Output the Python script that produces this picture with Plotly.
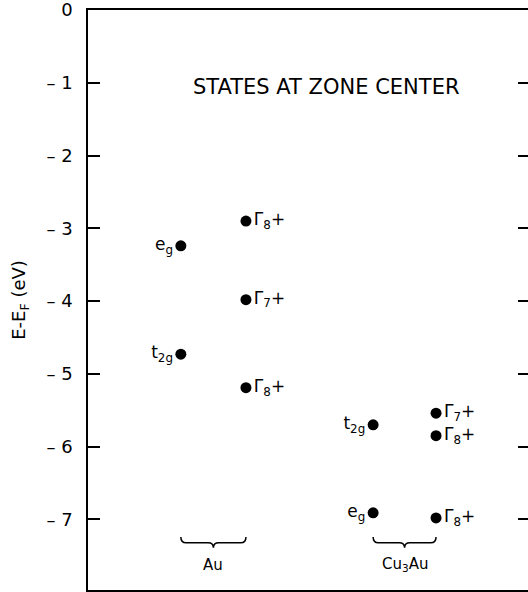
import plotly.graph_objects as go

# ---- data ----
# column positions (arbitrary horizontal units, range 0..10)
col_x = [2.11, 3.59, 6.48, 7.91]

au_cf_labels = ["e<sub>g</sub>", "t<sub>2g</sub>"]
au_cf_energy = [-3.24, -4.73]

au_so_labels = ["Γ<sub>8</sub>+", "Γ<sub>7</sub>+", "Γ<sub>8</sub>+"]
au_so_energy = [-2.90, -3.98, -5.19]

cu3au_cf_labels = ["t<sub>2g</sub>", "e<sub>g</sub>"]
cu3au_cf_energy = [-5.70, -6.91]

cu3au_so_labels = ["Γ<sub>7</sub>+", "Γ<sub>8</sub>+", "Γ<sub>8</sub>+"]
cu3au_so_energy = [-5.54, -5.85, -6.98]

tick_vals = [0, -1, -2, -3, -4, -5, -6, -7]
tick_text = ["0", "– 1", "– 2", "– 3", "– 4", "– 5", "– 6", "– 7"]

group_labels = ["Au", "Cu<sub>3</sub>Au"]

FONT = "DejaVu Sans"

fig = go.Figure()

def add_col(x, ys, labels, pos):
    fig.add_trace(go.Scatter(
        x=[x] * len(ys), y=ys, mode="markers+text",
        text=labels, textposition=pos,
        marker=dict(color="black", size=11),
        textfont=dict(family=FONT, size=17, color="black"),
        showlegend=False, hoverinfo="skip",
    ))

add_col(col_x[0], au_cf_energy, au_cf_labels, "middle left")
add_col(col_x[1], au_so_energy, au_so_labels, "middle right")
add_col(col_x[2], cu3au_cf_energy, cu3au_cf_labels, "middle left")
add_col(col_x[3], cu3au_so_energy, cu3au_so_labels, "middle right")

# dummy trace for the right-hand tick axis
fig.add_trace(go.Scatter(x=[None], y=[None], yaxis="y2", showlegend=False))

# braces under each material
def brace(x0, x1, ytop=-7.24, ymid=-7.32, ytip=-7.39, d=0.12):
    xm = (x0 + x1) / 2
    return (f"M {x0},{ytop} Q {x0},{ymid} {x0+d},{ymid} L {xm-d},{ymid} "
            f"Q {xm},{ymid} {xm},{ytip} Q {xm},{ymid} {xm+d},{ymid} "
            f"L {x1-d},{ymid} Q {x1},{ymid} {x1},{ytop}")

shapes = []
annotations = []
for (a, b), lab in zip([(col_x[0], col_x[1]), (col_x[2], col_x[3])], group_labels):
    shapes.append(dict(type="path", xref="x", yref="y", path=brace(a, b),
                       line=dict(color="black", width=1.5)))
    annotations.append(dict(x=(a + b) / 2, y=-7.62, xref="x", yref="y",
                            text=lab, showarrow=False,
                            font=dict(family=FONT, size=15, color="black")))

annotations.append(dict(x=5.43, y=-1.06, xref="x", yref="y",
                        text="STATES AT ZONE CENTER", showarrow=False,
                        xanchor="center",
                        font=dict(family=FONT, size=21, color="black")))

annotations.append(dict(x=-0.155, y=0.5, xref="paper", yref="paper",
                        text="E-E<sub>F</sub> (eV)", textangle=-90,
                        xanchor="center", yanchor="middle",
                        showarrow=False,
                        font=dict(family=FONT, size=18, color="black")))

YR = [-7.97, 0.0005]

fig.update_layout(
    width=528, height=592,
    margin=dict(l=88, r=0, t=10, b=2),
    paper_bgcolor="white", plot_bgcolor="white",
    xaxis=dict(range=[0, 10], showline=True, mirror=True, linecolor="black",
               linewidth=1.5, showgrid=False, zeroline=False, ticks="",
               showticklabels=False, fixedrange=True),
    yaxis=dict(range=YR, showline=True, linecolor="black",
               linewidth=1.5, showgrid=False, zeroline=False,
               tickvals=tick_vals, ticktext=tick_text, ticks="inside",
               ticklen=12, tickwidth=1.5, tickcolor="black",
               ticklabelstandoff=10, ticklabeloverflow="allow",
               tickfont=dict(family=FONT, size=18, color="black")),
    yaxis2=dict(range=YR, overlaying="y", side="right",
                showline=False, showgrid=False, zeroline=False,
                tickvals=tick_vals[1:], ticks="inside", ticklen=10,
                tickwidth=1.5, tickcolor="black", showticklabels=False),
    shapes=shapes, annotations=annotations,
)

fig.write_html("out.html")
